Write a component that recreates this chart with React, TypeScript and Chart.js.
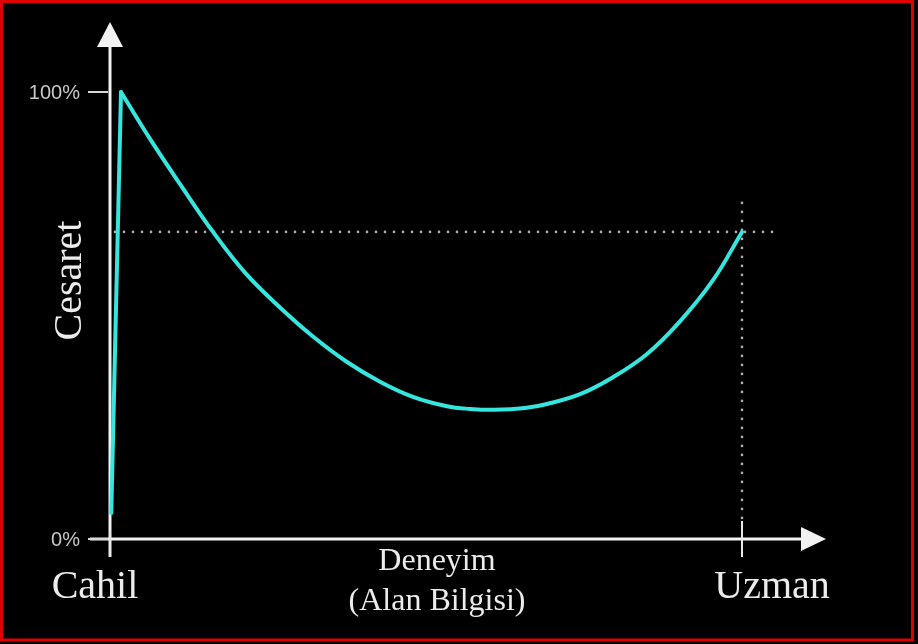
import React, { useEffect, useRef } from "react";
import { Chart, registerables } from "chart.js";

Chart.register(...registerables);

// Rising edge (ignorant -> peak confidence)
const riseX = [0.2, 1.74];
const riseY = [5.8, 100];

// Main curve (peak -> valley -> expert)
const curveX = [1.74, 6.33, 11.08, 16.3, 21.36, 26.9, 32.12, 37.5, 42.72, 47.94, 53.32, 56.96, 60.92, 65.66, 69.15, 74.37, 79.59, 84.97, 90.19, 95.41, 100];
const curveY = [100, 89.5, 79.4, 68.7, 59.6, 51.8, 45.3, 39.6, 35.2, 31.8, 29.7, 29.1, 28.9, 29.3, 30.2, 32.4, 36.2, 41.4, 48.7, 57.9, 68.7];

const yTicks = [0, 100];
const yTickLabels = ["0%", "100%"];
const xTicks = [0, 100];
const xTickLabels = ["Cahil", "Uzman"];
const xTitle = ["Deneyim", "(Alan Bilgisi)"];
const yTitle = "Cesaret";
const expertLevel = 68.7;

const CYAN = "#35e6df";

const decorPlugin = {
  id: "decor",
  beforeDraw(chart: any) {
    const { ctx, width, height } = chart;
    ctx.save();
    ctx.fillStyle = "#000";
    ctx.fillRect(0, 0, width, height);
    ctx.restore();
  },
  beforeDatasetsDraw(chart: any) {
    const { ctx } = chart;
    const xs = chart.scales.x;
    const ys = chart.scales.y;
    const x0 = xs.getPixelForValue(0);
    const x1 = xs.getPixelForValue(100);
    const y0 = ys.getPixelForValue(0);
    const yE = ys.getPixelForValue(expertLevel);
    ctx.save();

    // dotted guides
    ctx.fillStyle = "#b0b0b0";
    for (let x = x0 + 5; x <= x1 + 30; x += 9) {
      ctx.beginPath();
      ctx.arc(x, yE, 1.3, 0, Math.PI * 2);
      ctx.fill();
    }
    for (let y = yE - 29; y <= y0 - 20; y += 9) {
      ctx.beginPath();
      ctx.arc(x1, y, 1.3, 0, Math.PI * 2);
      ctx.fill();
    }

    // axes
    ctx.strokeStyle = "#f2f2f2";
    ctx.fillStyle = "#f2f2f2";
    ctx.lineWidth = 3;
    ctx.beginPath();
    ctx.moveTo(x0, y0 + 18);
    ctx.lineTo(x0, 46);
    ctx.stroke();
    ctx.beginPath();
    ctx.moveTo(x0 - 20, y0);
    ctx.lineTo(802, y0);
    ctx.stroke();
    // arrow heads
    ctx.beginPath();
    ctx.moveTo(x0, 22);
    ctx.lineTo(x0 - 13, 47);
    ctx.lineTo(x0 + 13, 47);
    ctx.closePath();
    ctx.fill();
    ctx.beginPath();
    ctx.moveTo(826, y0);
    ctx.lineTo(801, y0 - 12);
    ctx.lineTo(801, y0 + 12);
    ctx.closePath();
    ctx.fill();

    // y ticks
    ctx.lineWidth = 2;
    ctx.font = "20px 'Liberation Sans', Arial, sans-serif";
    ctx.textAlign = "right";
    ctx.textBaseline = "middle";
    yTicks.forEach((v, i) => {
      const py = ys.getPixelForValue(v);
      ctx.strokeStyle = "#d8d8d8";
      ctx.beginPath();
      ctx.moveTo(x0 - 22, py);
      ctx.lineTo(x0 - 2, py);
      ctx.stroke();
      ctx.fillStyle = "#c8c8c8";
      ctx.fillText(yTickLabels[i], x0 - 30, py + 1);
    });

    // x ticks
    ctx.strokeStyle = "#e8e8e8";
    ctx.lineWidth = 2;
    xTicks.forEach((v) => {
      const px = xs.getPixelForValue(v);
      ctx.beginPath();
      ctx.moveTo(px, v === 0 ? y0 - 8 : y0 - 18);
      ctx.lineTo(px, y0 + 18);
      ctx.stroke();
    });
    ctx.fillStyle = "#ececec";
    ctx.font = "40px 'Liberation Serif', serif";
    ctx.textBaseline = "alphabetic";
    ctx.textAlign = "center";
    ctx.fillText(xTickLabels[0], xs.getPixelForValue(xTicks[0]) - 15, y0 + 59);
    ctx.fillText(xTickLabels[1], xs.getPixelForValue(xTicks[1]) + 30, y0 + 59);

    // x title
    ctx.font = "32px 'Liberation Serif', serif";
    const cx = (x0 + x1) / 2 + 11;
    ctx.fillText(xTitle[0], cx, y0 + 31);
    ctx.fillText(xTitle[1], cx, y0 + 71);

    // y title
    ctx.save();
    ctx.translate(x0 - 29, (ys.getPixelForValue(0) + ys.getPixelForValue(100)) / 2 - 35);
    ctx.rotate(-Math.PI / 2);
    ctx.font = "40px 'Liberation Serif', serif";
    ctx.textAlign = "center";
    ctx.fillText(yTitle, 0, 0);
    ctx.restore();

    ctx.restore();
  },
  afterDraw(chart: any) {
    const { ctx } = chart;
    ctx.save();
    ctx.strokeStyle = "#e00000";
    ctx.lineWidth = 3;
    ctx.strokeRect(1.5, 1.5, 911, 638.5);
    ctx.restore();
  },
};

export default function App() {
  const ref = useRef<HTMLCanvasElement | null>(null);
  useEffect(() => {
    document.body.style.margin = "0";
    document.body.style.background = "#000";
    const canvas = ref.current;
    if (!canvas) return;
    const chart = new Chart(canvas, {
      type: "line",
      data: {
        datasets: [
          {
            data: riseX.map((x, i) => ({ x, y: riseY[i] })),
            borderColor: CYAN,
            borderWidth: 4,
            pointRadius: 0,
            tension: 0,
            borderCapStyle: "round",
            borderJoinStyle: "round",
            clip: false,
          },
          {
            data: curveX.map((x, i) => ({ x, y: curveY[i] })),
            borderColor: CYAN,
            borderWidth: 4,
            pointRadius: 0,
            tension: 0.4,
            borderCapStyle: "round",
            borderJoinStyle: "round",
            clip: false,
          },
        ],
      } as any,
      options: {
        responsive: false,
        maintainAspectRatio: false,
        animation: false,
        devicePixelRatio: 1,
        layout: { padding: { left: 110, right: 176, top: 92, bottom: 105 } },
        plugins: { legend: { display: false }, tooltip: { enabled: false } },
        scales: {
          x: { type: "linear", min: 0, max: 100, display: false },
          y: { type: "linear", min: 0, max: 100, display: false },
        },
      } as any,
      plugins: [decorPlugin],
    });
    return () => chart.destroy();
  }, []);
  return (
    <div style={{ width: 918, height: 644, background: "#000" }}>
      <canvas ref={ref} width={918} height={644} style={{ display: "block" }} />
    </div>
  );
}
